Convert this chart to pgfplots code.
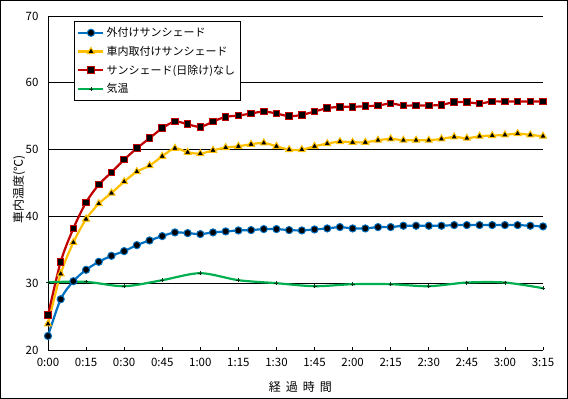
\documentclass[border=0pt]{standalone}
\usepackage{pgfplots}
\pgfplotsset{compat=1.18}
\usepackage{fontspec}
\setmainfont{Noto Sans CJK JP}
\definecolor{cblue}{RGB}{0,112,192}
\definecolor{cyellow}{RGB}{255,192,0}
\definecolor{cred}{RGB}{192,0,0}
\definecolor{cgreen}{RGB}{0,176,80}
\pgfplotstableread{
t v
0 22.1
5 27.6
10 30.3
15 32.0
20 33.2
25 34.1
30 34.8
35 35.7
40 36.4
45 37.05
50 37.6
55 37.5
60 37.35
65 37.6
70 37.75
75 37.9
80 37.95
85 38.1
90 38.1
95 37.95
100 37.9
105 38.05
110 38.2
115 38.4
120 38.2
125 38.2
130 38.4
135 38.4
140 38.6
145 38.6
150 38.6
155 38.6
160 38.7
165 38.7
170 38.7
175 38.7
180 38.7
185 38.7
190 38.6
195 38.5
}\outer
\pgfplotstableread{
t v
0 23.9
5 31.4
10 36.1
15 39.6
20 41.9
25 43.5
30 45.2
35 46.7
40 47.6
45 49.0
50 50.2
55 49.6
60 49.4
65 49.9
70 50.3
75 50.5
80 50.8
85 51.0
90 50.5
95 50.0
100 50.0
105 50.5
110 50.9
115 51.2
120 51.1
125 51.1
130 51.4
135 51.6
140 51.4
145 51.4
150 51.4
155 51.6
160 51.9
165 51.7
170 52.0
175 52.1
180 52.2
185 52.4
190 52.2
195 52.0
}\inner
\pgfplotstableread{
t v
0 25.2
5 33.2
10 38.2
15 42.1
20 44.75
25 46.6
30 48.5
35 50.2
40 51.7
45 53.2
50 54.2
55 53.8
60 53.4
65 54.2
70 54.9
75 55.1
80 55.4
85 55.7
90 55.4
95 55.0
100 55.2
105 55.7
110 56.2
115 56.4
120 56.4
125 56.5
130 56.6
135 56.9
140 56.6
145 56.6
150 56.6
155 56.7
160 57.1
165 57.1
170 56.9
175 57.2
180 57.2
185 57.2
190 57.2
195 57.2
}\none
\pgfplotstableread{
t v
0 30.15
15 30.2
30 29.55
45 30.45
60 31.5
75 30.45
90 30.0
105 29.55
120 29.85
135 29.85
150 29.55
165 30.1
180 30.1
195 29.25
}\air
\begin{document}
\begin{tikzpicture}
\begin{axis}[
  scale only axis,
  width=495pt, height=334pt,
  xmin=0, xmax=195, ymin=20, ymax=70,
  axis x line=bottom, axis y line=left,
  axis line style={-, line width=0.8pt},
  xtick={0,15,...,195},
  xticklabels={0:00,0:15,0:30,0:45,1:00,1:15,1:30,1:45,2:00,2:15,2:30,2:45,3:00,3:15},
  ytick={20,30,40,50,60,70},
  tick align=inside,
  major tick length=3pt,
  tick style={black, line width=0.6pt},
  ymajorgrids,
  grid style={black, line width=0.8pt},
  /pgf/number format/assume math mode=true,
  ticklabel style={font=\fontsize{11.5}{13}\selectfont},
  xticklabel style={yshift=-5pt},
  yticklabel style={xshift=-6pt},
  xlabel={経\hspace{5pt}過\hspace{5pt}時\hspace{5pt}間},
  ylabel={車内温度(℃)},
  every axis x label/.style={at={(axis description cs:0.51,0)}, yshift=-37pt, anchor=center, font=\fontsize{12}{14}\selectfont},
  every axis y label/.style={at={(axis description cs:0,0.48)}, xshift=-29pt, anchor=center, rotate=90, font=\fontsize{12}{14}\selectfont},
  clip=false,
  legend cell align=left,
  legend style={at={(rel axis cs:0.0525,0.985)}, anchor=north west, draw=black, line width=0.8pt,
    font=\fontsize{11}{13}\selectfont, row sep=4pt, inner xsep=3pt, inner ysep=4pt},
  legend image code/.code={\draw[#1, mark repeat=2, mark phase=2] plot coordinates {(0pt,0pt)(12.5pt,0pt)(25pt,0pt)};},
]
\addplot[smooth, tension=0.5, color=cblue, line width=2.2pt, mark=*, mark size=3.6pt,
  mark options={fill=black, draw=cblue, line width=1pt}] table[x=t,y=v]{\outer};
\addlegendentry{外付けサンシェード}
\addplot[smooth, tension=0.5, color=cyellow, line width=2.2pt, mark=triangle*, mark size=4pt,
  mark options={fill=black, draw=cyellow, line width=1pt}] table[x=t,y=v]{\inner};
\addlegendentry{車内取付けサンシェード}
\addplot[smooth, tension=0.5, color=cred, line width=2.2pt, mark=square*, mark size=3.3pt,
  mark options={fill=black, draw=cred, line width=1pt}] table[x=t,y=v]{\none};
\addlegendentry{サンシェード(日除け)なし}
\addplot[smooth, tension=0.5, color=cgreen, line width=2.2pt, mark=+, mark size=2pt,
  mark options={draw=black!70!cgreen, line width=0.8pt}] table[x=t,y=v]{\air};
\addlegendentry{気温}
\end{axis}
\draw[line width=1pt] (-47.5pt,-48.5pt) rectangle (519.5pt,349.5pt);
\end{tikzpicture}
\end{document}
